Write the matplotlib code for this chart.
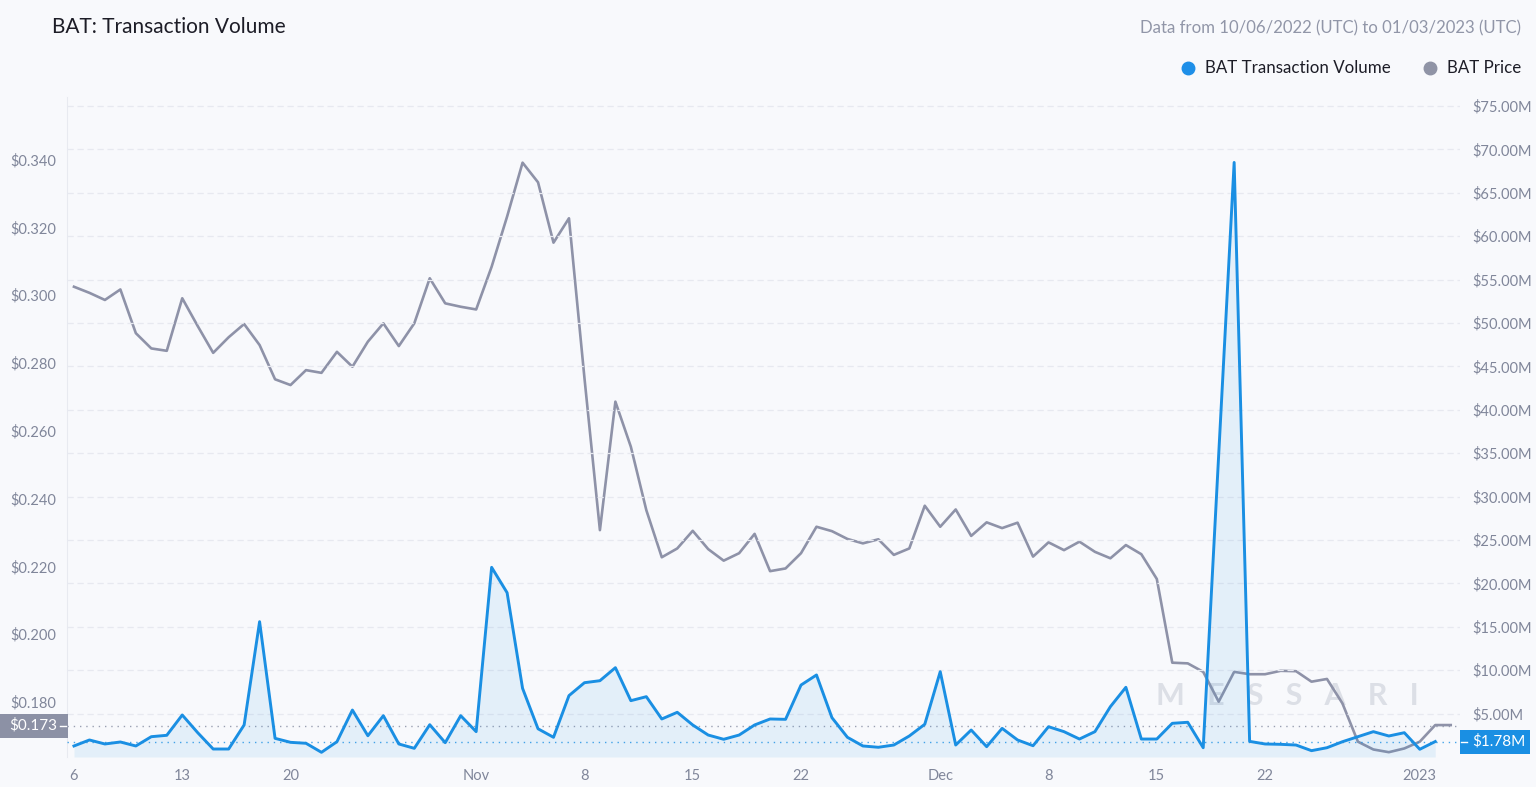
import numpy as np
import pandas as pd
import matplotlib
matplotlib.use("Agg")
import matplotlib.pyplot as plt
import matplotlib.dates as mdates
from matplotlib.patches import Rectangle
from matplotlib.lines import Line2D

plt.rcParams['font.family'] = ['Lato', 'DejaVu Sans']

# daily data, 10/06/2022 .. 01/03/2023
dates = pd.date_range("2022-10-06", periods=90, freq="D")

price = [0.3025, 0.3007, 0.2986, 0.3017, 0.2888, 0.2843, 0.2836, 0.2991, 0.2909, 0.2830,
         0.2876, 0.2915, 0.2853, 0.2752, 0.2735, 0.2779, 0.2771, 0.2833, 0.2789, 0.2863,
         0.2917, 0.2850, 0.2917, 0.3050, 0.2976, 0.2966, 0.2958, 0.3084, 0.3232, 0.3391,
         0.3333, 0.3155, 0.3227, 0.2756, 0.2307, 0.2686, 0.2553, 0.2366, 0.2227, 0.2253,
         0.2305, 0.2251, 0.2217, 0.2239, 0.2296, 0.2186, 0.2194, 0.2239, 0.2317, 0.2304,
         0.2281, 0.2268, 0.2280, 0.2234, 0.2253, 0.2379, 0.2317, 0.2368, 0.2290, 0.2330,
         0.2313, 0.2329, 0.2229, 0.2271, 0.2248, 0.2273, 0.2243, 0.2224, 0.2263, 0.2236,
         0.2163, 0.1916, 0.1914, 0.1889, 0.1801, 0.1889, 0.1882, 0.1882, 0.1892, 0.1891,
         0.1860, 0.1868, 0.1796, 0.1683, 0.1660, 0.1652, 0.1663, 0.1683, 0.1732, 0.1732]

# transaction volume in $M (one day shorter than price)
volume = [1.27, 1.96, 1.50, 1.73, 1.27, 2.34, 2.50, 4.84, 2.80, 0.92,
          0.92, 3.69, 15.59, 2.15, 1.69, 1.58, 0.54, 1.76, 5.41, 2.45,
          4.76, 1.50, 1.00, 3.72, 1.65, 4.76, 2.92, 21.85, 18.93, 7.91,
          3.25, 2.27, 7.07, 8.56, 8.79, 10.29, 6.49, 6.95, 4.38, 5.15,
          3.69, 2.53, 2.04, 2.53, 3.69, 4.38, 4.34, 8.29, 9.45, 4.53,
          2.27, 1.27, 1.12, 1.38, 2.42, 3.77, 9.83, 1.38, 3.11, 1.19,
          3.30, 1.96, 1.30, 3.49, 2.92, 2.07, 2.92, 5.80, 8.03, 2.07,
          2.07, 3.88, 4.00, 1.07, 34.8, 68.5, 1.80, 1.50, 1.46, 1.38,
          0.73, 1.07, 1.76, 2.34, 2.92, 2.42, 2.80, 0.89, 1.78]

tick_dates = pd.to_datetime(["2022-10-06", "2022-10-13", "2022-10-20", "2022-11-01",
                             "2022-11-08", "2022-11-15", "2022-11-22", "2022-12-01",
                             "2022-12-08", "2022-12-15", "2022-12-22", "2023-01-01"])
tick_labels = ["6", "13", "20", "Nov", "8", "15", "22", "Dec", "8", "15", "22", "2023"]

price_ticks = [0.180, 0.200, 0.220, 0.240, 0.260, 0.280, 0.300, 0.320, 0.340]
volume_ticks = [5, 10, 15, 20, 25, 30, 35, 40, 45, 50, 55, 60, 65, 70, 75]

last_price = 0.173
last_volume = 1.78

BG = '#f8f9fc'
BLUE = '#1a8fe3'
GREY = '#8e92a8'
TICK = '#80869a'

W, H = 1536, 787
fig = plt.figure(figsize=(W / 100, H / 100), dpi=100, facecolor=BG)
ax = fig.add_axes([67 / W, 30 / H, (1460 - 67) / W, 660 / H])
ax.set_facecolor(BG)
ax2 = ax.twinx()
ax2.patch.set_visible(False)

x0 = mdates.date2num(dates[0])
ax.set_xlim(x0 - 0.45, x0 + 89.6)
ax.set_ylim(0.16378, 0.35847)
ax2.set_ylim(0, 76.04)

# price line
ax.plot(dates, price, color=GREY, lw=1.9, zorder=3)

# volume line + fill
vd = dates[:len(volume)]
ax2.fill_between(vd, volume, 0, color=BLUE, alpha=0.09, lw=0, zorder=2)
ax2.plot(vd, volume, color=BLUE, lw=2.1, zorder=4)

# current value dotted lines
ax.axhline(last_price, color='#9aa0b2', lw=1.0, ls=(0, (1, 3.5)), zorder=2)
ax2.axhline(last_volume, color=BLUE, lw=1.0, ls=(0, (1, 3.5)), alpha=0.8, zorder=2)

# ticks
ax.set_xticks(tick_dates)
ax.set_xticklabels(tick_labels)
ax.set_yticks(price_ticks)
ax.set_yticklabels(["$%.3f" % v for v in price_ticks])
ax2.set_yticks(volume_ticks)
ax2.set_yticklabels(["$%.2fM" % v for v in volume_ticks])
ax.tick_params(axis='x', length=0, pad=8.5, labelsize=10.5, labelcolor=TICK)
ax.tick_params(axis='y', length=0, pad=8, labelsize=10.5, labelcolor=TICK)
ax2.tick_params(axis='y', length=0, pad=8.6, labelsize=10.5, labelcolor=TICK)

ax2.grid(axis='y', color='#e7e9f0', lw=0.9, ls=(0, (5, 3)))
ax.grid(False)
for a in (ax, ax2):
    for s in a.spines.values():
        s.set_visible(False)
ax.spines['left'].set_visible(True)
ax.spines['left'].set_color('#e8eaf0')

# watermark
ax.text(0.876, 0.093, "M   E   S   S   A   R   I", transform=ax.transAxes, ha='center',
        va='center', fontsize=22, fontweight='bold', color='#dcdfe6', zorder=1)

# value boxes
fig.canvas.draw()
inv = fig.transFigure.inverted()
yp = inv.transform(ax.transData.transform((x0, last_price)))[1]
yv = inv.transform(ax2.transData.transform((x0, last_volume)))[1]
fig.add_artist(Rectangle((0, yp - 12 / H), 68 / W, 24 / H, transform=fig.transFigure,
                         facecolor='#8c91a5', edgecolor='none'))
fig.text(57 / W, yp, "$0.173", ha='right', va='center', color='white', fontsize=11)
fig.add_artist(Line2D([60 / W, 66 / W], [yp, yp], transform=fig.transFigure, color='white', lw=1))
fig.add_artist(Rectangle((1460 / W, yv - 12 / H), 70 / W, 24 / H, transform=fig.transFigure,
                         facecolor=BLUE, edgecolor='none'))
fig.text(1472 / W, yv, "$1.78M", ha='left', va='center', color='white', fontsize=11)
fig.add_artist(Line2D([1461 / W, 1467 / W], [yv, yv], transform=fig.transFigure, color='white', lw=1))

# header
fig.text(52 / W, 1 - 27 / H, "BAT: Transaction Volume", ha='left', va='center',
         fontsize=15, color='#1d1d27')
fig.text(1521 / W, 1 - 28 / H, "Data from 10/06/2022 (UTC) to 01/03/2023 (UTC)", ha='right',
         va='center', fontsize=12.1, color='#9196a8')

# legend
fig.add_artist(Line2D([1188 / W], [1 - 68 / H], transform=fig.transFigure, marker='o',
                      markersize=9, color='#1e8fe8', lw=0))
fig.text(1205 / W, 1 - 68 / H, "BAT Transaction Volume", ha='left', va='center',
         fontsize=12.2, color='#1d1d27')
fig.add_artist(Line2D([1430 / W], [1 - 68 / H], transform=fig.transFigure, marker='o',
                      markersize=9, color='#9094a6', lw=0))
fig.text(1447 / W, 1 - 68 / H, "BAT Price", ha='left', va='center',
         fontsize=12.2, color='#1d1d27')

fig.savefig("out.png", dpi=100, facecolor=BG)
